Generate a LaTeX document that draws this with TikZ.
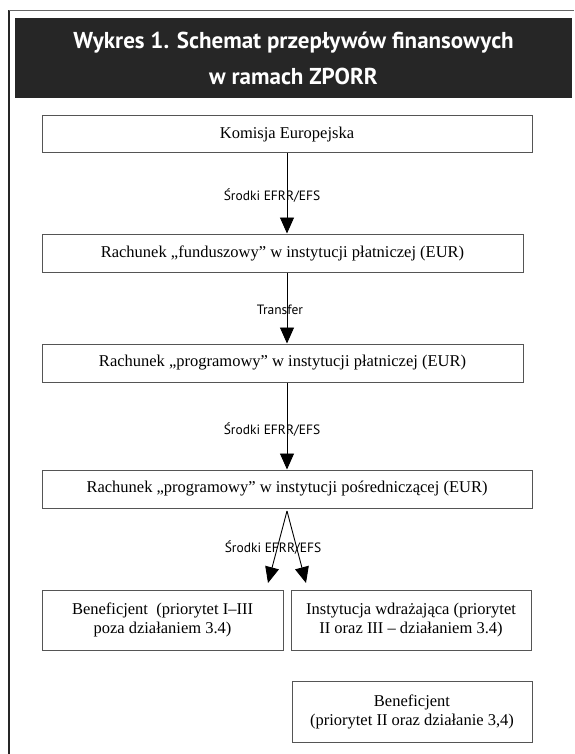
\documentclass[tikz,border=0pt]{standalone}
\usepackage{fontspec}
\setmainfont{Liberation Serif}
\newfontfamily\titlefont{PT Sans}
\newfontfamily\labelfont{PT Sans}
\usetikzlibrary{arrows.meta,calc}
\definecolor{banner}{HTML}{262626}
\definecolor{boxline}{HTML}{555555}
\begin{document}
\begin{tikzpicture}[x=1pt,y=-1pt,
  box/.style={draw=boxline,line width=1pt,fill=white,inner sep=0pt,align=center,
    font=\fontsize{16.5}{19}\selectfont},
  flow/.style={draw=black,line width=0.9pt,-{Triangle[length=16pt,width=14pt]}},
  lbl/.style={font=\labelfont\fontsize{13.5}{15}\selectfont,inner sep=0pt}]
\useasboundingbox (0,0) rectangle (574,754);
% outer frame
\draw[line width=2pt,color=black!85] (8.5,754) -- (8.5,10.5);
\draw[line width=1.4pt,color=black!60] (8.5,10.5) -- (574,10.5);
% banner
\node[fill=banner,minimum width=557pt,minimum height=80pt,inner sep=0pt,text=white,
  align=center,font=\titlefont\bfseries\fontsize{23}{36}\selectfont] (title) at (293.5,58)
  {Wykres 1. Schemat przepływów finansowych\\w ramach ZPORR};
% boxes
\node[box,minimum width=490pt,minimum height=37pt] (b1) at (287,134.5) {Komisja Europejska};
\node[box,minimum width=481pt,minimum height=38pt] (b2) at (282.5,253) {Rachunek „funduszowy” w instytucji płatniczej (EUR)};
\node[box,minimum width=481pt,minimum height=38pt] (b3) at (282.5,363) {Rachunek „programowy” w instytucji płatniczej (EUR)};
\node[box,minimum width=490pt,minimum height=38pt] (b4) at (287,489) {Rachunek „programowy” w instytucji pośredniczącej (EUR)};
\node[box,minimum width=241pt,minimum height=60pt] (b5) at (162.5,620) {Beneficjent~ (priorytet I–III\\poza działaniem 3.4)};
\node[box,minimum width=240pt,minimum height=60pt] (b6) at (411,620) {Instytucja wdrażająca (priorytet\\II oraz III – działaniem 3.4)};
\node[box,minimum width=240pt,minimum height=61pt] (b7) at (412,711.5) {Beneficjent\\(priorytet II oraz działanie 3,4)};
% arrow ends
\coordinate (t5) at (268,583);
\coordinate (t6) at (306,583);
\coordinate (s4) at (287,511);
% connectors
\draw[flow] (b1.south) -- (b1.south |- b2.north);
\draw[flow] (b2.south -| b1.south) -- (b3.north -| b1.south);
\draw[flow] (b3.south -| b1.south) -- (b4.north);
\draw[flow] (s4) -- (t5);
\draw[flow] (s4) -- (t6);
% labels
\node[lbl] (l1) at (272,196) {Środki EFRR/EFS};
\node[lbl] (l2) at (280,310) {Transfer};
\node[lbl] (l3) at (272,430) {Środki EFRR/EFS};
\node[lbl] (l4) at (273,548) {Środki EFRR/EFS};
\end{tikzpicture}
\end{document}
